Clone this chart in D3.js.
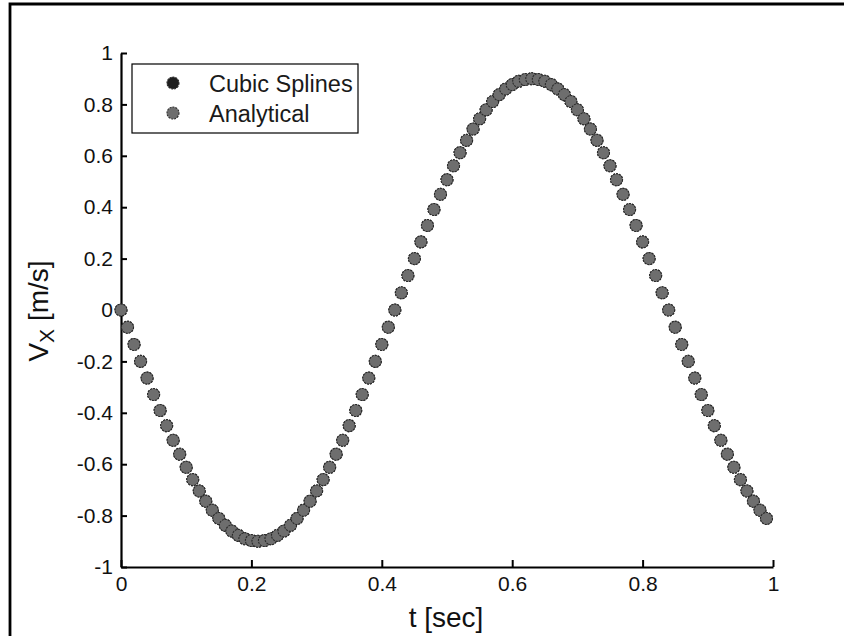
<!DOCTYPE html>
<html>
<head>
<meta charset="utf-8">
<script src="https://cdn.jsdelivr.net/npm/d3@7"></script>
<style>
  html, body { margin: 0; padding: 0; background: #fff; }
  svg { display: block; }
  text { font-family: "Liberation Sans", Arial, sans-serif; }
</style>
</head>
<body>
<svg id="chart" width="844" height="636"></svg>
<script>
// Sample times (s)
const tValues = [
  0.00, 0.01, 0.02, 0.03, 0.04, 0.05, 0.06, 0.07, 0.08, 0.09,
  0.10, 0.11, 0.12, 0.13, 0.14, 0.15, 0.16, 0.17, 0.18, 0.19,
  0.20, 0.21, 0.22, 0.23, 0.24, 0.25, 0.26, 0.27, 0.28, 0.29,
  0.30, 0.31, 0.32, 0.33, 0.34, 0.35, 0.36, 0.37, 0.38, 0.39,
  0.40, 0.41, 0.42, 0.43, 0.44, 0.45, 0.46, 0.47, 0.48, 0.49,
  0.50, 0.51, 0.52, 0.53, 0.54, 0.55, 0.56, 0.57, 0.58, 0.59,
  0.60, 0.61, 0.62, 0.63, 0.64, 0.65, 0.66, 0.67, 0.68, 0.69,
  0.70, 0.71, 0.72, 0.73, 0.74, 0.75, 0.76, 0.77, 0.78, 0.79,
  0.80, 0.81, 0.82, 0.83, 0.84, 0.85, 0.86, 0.87, 0.88, 0.89,
  0.90, 0.91, 0.92, 0.93, 0.94, 0.95, 0.96, 0.97, 0.98, 0.99
];

// Velocity Vx (m/s) from the cubic-spline fit
const splineVx = [
   0.000, -0.067, -0.134, -0.200, -0.265, -0.329, -0.391, -0.450, -0.507, -0.561,
  -0.612, -0.660, -0.704, -0.744, -0.779, -0.811, -0.838, -0.860, -0.877, -0.890,
  -0.897, -0.900, -0.897, -0.890, -0.877, -0.860, -0.838, -0.811, -0.779, -0.744,
  -0.704, -0.660, -0.612, -0.561, -0.507, -0.450, -0.391, -0.329, -0.265, -0.200,
  -0.134, -0.067,  0.000,  0.067,  0.134,  0.200,  0.265,  0.329,  0.391,  0.450,
   0.507,  0.561,  0.612,  0.660,  0.704,  0.744,  0.779,  0.811,  0.838,  0.860,
   0.877,  0.890,  0.897,  0.900,  0.897,  0.890,  0.877,  0.860,  0.838,  0.811,
   0.779,  0.744,  0.704,  0.660,  0.612,  0.561,  0.507,  0.450,  0.391,  0.329,
   0.265,  0.200,  0.134,  0.067,  0.000, -0.067, -0.134, -0.200, -0.265, -0.329,
  -0.391, -0.450, -0.507, -0.561, -0.612, -0.660, -0.704, -0.744, -0.779, -0.811
];

// Velocity Vx (m/s), analytical solution
const analyticalVx = [
   0.000, -0.067, -0.134, -0.200, -0.265, -0.329, -0.391, -0.450, -0.507, -0.561,
  -0.612, -0.660, -0.704, -0.744, -0.779, -0.811, -0.838, -0.860, -0.877, -0.890,
  -0.897, -0.900, -0.897, -0.890, -0.877, -0.860, -0.838, -0.811, -0.779, -0.744,
  -0.704, -0.660, -0.612, -0.561, -0.507, -0.450, -0.391, -0.329, -0.265, -0.200,
  -0.134, -0.067,  0.000,  0.067,  0.134,  0.200,  0.265,  0.329,  0.391,  0.450,
   0.507,  0.561,  0.612,  0.660,  0.704,  0.744,  0.779,  0.811,  0.838,  0.860,
   0.877,  0.890,  0.897,  0.900,  0.897,  0.890,  0.877,  0.860,  0.838,  0.811,
   0.779,  0.744,  0.704,  0.660,  0.612,  0.561,  0.507,  0.450,  0.391,  0.329,
   0.265,  0.200,  0.134,  0.067,  0.000, -0.067, -0.134, -0.200, -0.265, -0.329,
  -0.391, -0.450, -0.507, -0.561, -0.612, -0.660, -0.704, -0.744, -0.779, -0.811
];

const xTicks = [0, 0.2, 0.4, 0.6, 0.8, 1];
const xTickLabels = ["0", "0.2", "0.4", "0.6", "0.8", "1"];
const yTicks = [-1, -0.8, -0.6, -0.4, -0.2, 0, 0.2, 0.4, 0.6, 0.8, 1];
const yTickLabels = ["-1", "-0.8", "-0.6", "-0.4", "-0.2", "0", "0.2", "0.4", "0.6", "0.8", "1"];
const seriesNames = ["Cubic Splines", "Analytical"];
const seriesFill = ["#1e1e1e", "#6e6e6e"];

const svg = d3.select("#chart");

// outer frame (runs off the right and bottom edges)
svg.append("path")
  .attr("d", "M10,640V4H850")
  .attr("fill", "none")
  .attr("stroke", "#000")
  .attr("stroke-width", 2.8);

const x = d3.scaleLinear().domain([0, 1]).range([121, 773]);
const y = d3.scaleLinear().domain([-1, 1]).range([567, 53]);

const tickFont = 21;

const xAxis = d3.axisBottom(x)
  .tickValues(xTicks)
  .tickFormat((d, i) => xTickLabels[i])
  .tickSizeInner(-7)
  .tickSizeOuter(0)
  .tickPadding(9);

const yAxis = d3.axisLeft(y)
  .tickValues(yTicks)
  .tickFormat((d, i) => yTickLabels[i])
  .tickSizeInner(-6)
  .tickSizeOuter(0)
  .tickPadding(8);

const gx = svg.append("g").attr("transform", `translate(0,${y(-1)})`).call(xAxis);
const gy = svg.append("g").attr("transform", `translate(${x(0)},0)`).call(yAxis);

[gx, gy].forEach(g => {
  g.select(".domain").attr("stroke", "#000").attr("stroke-width", 2.2);
  g.selectAll(".tick line").attr("stroke", "#000").attr("stroke-width", 2);
  g.selectAll(".tick text")
    .attr("fill", "#111")
    .style("font-family", '"Liberation Sans", Arial, sans-serif')
    .style("font-size", tickFont + "px");
});

// axis titles
svg.append("text")
  .attr("x", 446)
  .attr("y", 627)
  .attr("text-anchor", "middle")
  .attr("fill", "#111")
  .style("font-size", "28px")
  .text("t [sec]");

const yl = svg.append("text")
  .attr("transform", "translate(48,311) rotate(-90)")
  .attr("text-anchor", "middle")
  .attr("fill", "#111")
  .style("font-size", "28px");
yl.append("tspan").text("V");
yl.append("tspan").attr("dy", 6).style("font-size", "21px").text("X");
yl.append("tspan").attr("dy", -6).text(" [m/s]");

// markers: spline points first, analytical points on top
const series = [splineVx, analyticalVx];
series.forEach((vals, si) => {
  svg.append("g")
    .selectAll("circle")
    .data(tValues)
    .join("circle")
    .attr("cx", d => x(d))
    .attr("cy", (d, i) => y(vals[i]))
    .attr("r", 6)
    .attr("fill", seriesFill[si])
    .attr("stroke", "#2a2a2a")
    .attr("stroke-width", 1.1)
    .attr("stroke-dasharray", "2,1");
});

// legend
const lg = svg.append("g");
lg.append("rect")
  .attr("x", 132).attr("y", 64)
  .attr("width", 226).attr("height", 69)
  .attr("fill", "#fff")
  .attr("stroke", "#000")
  .attr("stroke-width", 1.2);

seriesNames.forEach((name, i) => {
  const cy = 83 + i * 30;
  lg.append("circle")
    .attr("cx", 173).attr("cy", cy).attr("r", 6)
    .attr("fill", seriesFill[i])
    .attr("stroke", "#2a2a2a")
    .attr("stroke-width", 1.1)
    .attr("stroke-dasharray", "2,1");
  lg.append("text")
    .attr("x", 209).attr("y", cy + 9)
    .attr("fill", "#1a1a1a")
    .style("font-size", "23.5px")
    .text(name);
});
</script>
</body>
</html>
